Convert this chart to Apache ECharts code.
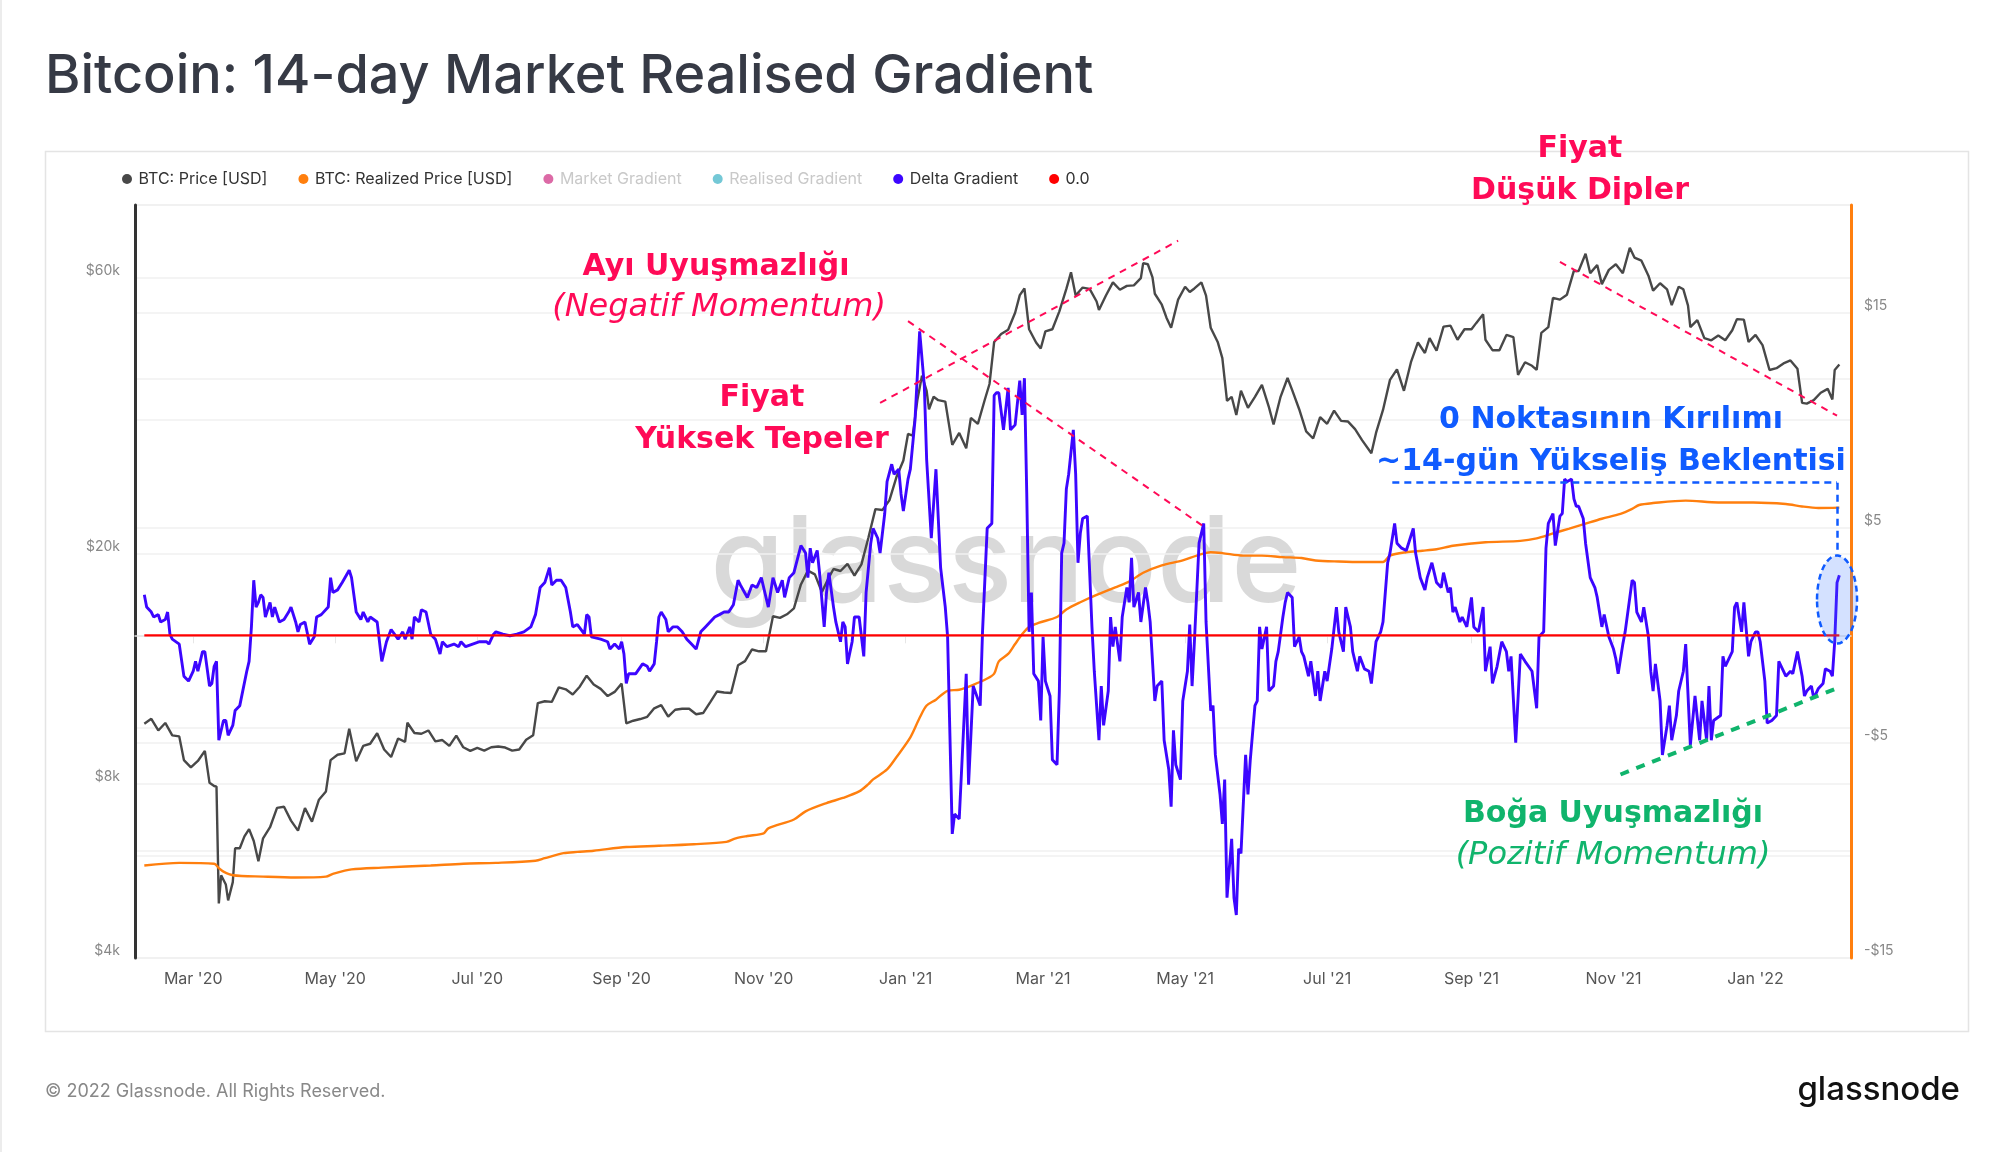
<!DOCTYPE html>
<html>
<head>
<meta charset="utf-8">
<title>Bitcoin: 14-day Market Realised Gradient</title>
<script src="https://cdn.jsdelivr.net/npm/echarts@6/dist/echarts.min.js"></script>
<style>
  html, body { margin: 0; padding: 0; background: #fff; }
  #chart { width: 2000px; height: 1152px; }
</style>
</head>
<body>
<div id="chart"></div>
<script>
// BTC price (USD)
const btcPrice = [
  ['2020-02-09', 10160], ['2020-02-12', 10360], ['2020-02-15', 9890], ['2020-02-18', 10190],
  ['2020-02-21', 9700], ['2020-02-24', 9660], ['2020-02-26', 8790], ['2020-02-29', 8540],
  ['2020-03-03', 8760], ['2020-03-06', 9120], ['2020-03-08', 8030], ['2020-03-10', 7930],
  ['2020-03-11', 7910], ['2020-03-12', 4970], ['2020-03-13', 5560], ['2020-03-15', 5360],
  ['2020-03-16', 5030], ['2020-03-18', 5410], ['2020-03-19', 6190], ['2020-03-21', 6190],
  ['2020-03-23', 6490], ['2020-03-25', 6680], ['2020-03-27', 6370], ['2020-03-29', 5880],
  ['2020-03-31', 6440], ['2020-04-03', 6730], ['2020-04-06', 7270], ['2020-04-09', 7300],
  ['2020-04-12', 6910], ['2020-04-15', 6640], ['2020-04-18', 7260], ['2020-04-21', 6880],
  ['2020-04-24', 7510], ['2020-04-27', 7760], ['2020-04-29', 8790], ['2020-05-02', 8980],
  ['2020-05-05', 9030], ['2020-05-07', 9960], ['2020-05-10', 8750], ['2020-05-13', 9300],
  ['2020-05-16', 9380], ['2020-05-19', 9780], ['2020-05-22', 9170], ['2020-05-25', 8900],
  ['2020-05-28', 9580], ['2020-05-31', 9450], ['2020-06-01', 10200], ['2020-06-04', 9790],
  ['2020-06-07', 9760], ['2020-06-10', 9890], ['2020-06-13', 9470], ['2020-06-16', 9520],
  ['2020-06-19', 9300], ['2020-06-22', 9690], ['2020-06-25', 9250], ['2020-06-28', 9120],
  ['2020-07-01', 9230], ['2020-07-04', 9130], ['2020-07-07', 9250], ['2020-07-10', 9280],
  ['2020-07-13', 9240], ['2020-07-16', 9130], ['2020-07-19', 9170], ['2020-07-22', 9530],
  ['2020-07-25', 9700], ['2020-07-27', 11030], ['2020-07-30', 11110], ['2020-08-02', 11080],
  ['2020-08-05', 11740], ['2020-08-08', 11650], ['2020-08-11', 11410], ['2020-08-14', 11770],
  ['2020-08-17', 12300], ['2020-08-20', 11870], ['2020-08-23', 11670], ['2020-08-26', 11340],
  ['2020-08-29', 11530], ['2020-09-01', 11920], ['2020-09-03', 10170], ['2020-09-06', 10280],
  ['2020-09-09', 10350], ['2020-09-12', 10440], ['2020-09-15', 10800], ['2020-09-18', 10940],
  ['2020-09-21', 10450], ['2020-09-24', 10740], ['2020-09-27', 10780], ['2020-09-30', 10780],
  ['2020-10-03', 10550], ['2020-10-06', 10600], ['2020-10-09', 11060], ['2020-10-12', 11550],
  ['2020-10-15', 11500], ['2020-10-18', 11480], ['2020-10-21', 12820], ['2020-10-24', 13030],
  ['2020-10-27', 13650], ['2020-10-30', 13550], ['2020-11-02', 13550], ['2020-11-05', 15580],
  ['2020-11-08', 15480], ['2020-11-11', 15700], ['2020-11-14', 16070], ['2020-11-17', 17680],
  ['2020-11-20', 18680], ['2020-11-23', 18400], ['2020-11-26', 17150], ['2020-11-29', 18180],
  ['2020-12-01', 18800], ['2020-12-04', 18650], ['2020-12-07', 19190], ['2020-12-10', 18320],
  ['2020-12-13', 19150], ['2020-12-16', 21310], ['2020-12-19', 23860], ['2020-12-22', 23780],
  ['2020-12-25', 24700], ['2020-12-28', 27080], ['2020-12-31', 28950], ['2021-01-02', 32170],
  ['2021-01-04', 31970], ['2021-01-06', 36770], ['2021-01-08', 40580], ['2021-01-10', 38200],
  ['2021-01-11', 35500], ['2021-01-13', 37300], ['2021-01-15', 36800], ['2021-01-18', 36600],
  ['2021-01-21', 30800], ['2021-01-24', 32300], ['2021-01-27', 30400], ['2021-01-29', 34300],
  ['2021-02-01', 33500], ['2021-02-04', 36900], ['2021-02-06', 39250], ['2021-02-08', 46400],
  ['2021-02-11', 47900], ['2021-02-14', 48700], ['2021-02-17', 52100], ['2021-02-19', 55900],
  ['2021-02-21', 57400], ['2021-02-23', 48800], ['2021-02-26', 46300], ['2021-02-28', 45200],
  ['2021-03-02', 48400], ['2021-03-05', 48800], ['2021-03-08', 52400], ['2021-03-11', 57300],
  ['2021-03-13', 61200], ['2021-03-15', 55800], ['2021-03-18', 57600], ['2021-03-21', 57300],
  ['2021-03-24', 54500], ['2021-03-25', 52700], ['2021-03-28', 55800], ['2021-03-31', 58800],
  ['2021-04-03', 57100], ['2021-04-06', 58000], ['2021-04-09', 58100], ['2021-04-12', 59800],
  ['2021-04-13', 63500], ['2021-04-15', 63200], ['2021-04-17', 60000], ['2021-04-18', 56200],
  ['2021-04-21', 53800], ['2021-04-23', 51100], ['2021-04-25', 49100], ['2021-04-28', 54900],
  ['2021-05-01', 57800], ['2021-05-03', 56600], ['2021-05-05', 57400], ['2021-05-08', 58800],
  ['2021-05-10', 55800], ['2021-05-12', 49100], ['2021-05-15', 46400], ['2021-05-17', 43500],
  ['2021-05-19', 36700], ['2021-05-21', 37300], ['2021-05-23', 34700], ['2021-05-25', 38200],
  ['2021-05-28', 35700], ['2021-05-31', 37300], ['2021-06-03', 39100], ['2021-06-06', 35800],
  ['2021-06-08', 33400], ['2021-06-11', 37300], ['2021-06-14', 40200], ['2021-06-16', 38300],
  ['2021-06-19', 35500], ['2021-06-22', 32500], ['2021-06-25', 31600], ['2021-06-28', 34400],
  ['2021-07-01', 33500], ['2021-07-04', 35300], ['2021-07-07', 33900], ['2021-07-10', 33800],
  ['2021-07-13', 32800], ['2021-07-16', 31400], ['2021-07-20', 29800], ['2021-07-22', 32300],
  ['2021-07-25', 35400], ['2021-07-28', 39900], ['2021-07-31', 41600], ['2021-08-03', 38200],
  ['2021-08-06', 42800], ['2021-08-09', 46300], ['2021-08-12', 44400], ['2021-08-14', 47100],
  ['2021-08-17', 44800], ['2021-08-20', 49300], ['2021-08-23', 49500], ['2021-08-26', 46800],
  ['2021-08-29', 48800], ['2021-09-01', 48800], ['2021-09-03', 50000], ['2021-09-06', 51800],
  ['2021-09-07', 46800], ['2021-09-10', 44900], ['2021-09-13', 44900], ['2021-09-16', 47700],
  ['2021-09-19', 47300], ['2021-09-21', 40700], ['2021-09-24', 42800], ['2021-09-27', 42200],
  ['2021-09-29', 41500], ['2021-10-01', 48100], ['2021-10-04', 49200], ['2021-10-06', 55300],
  ['2021-10-09', 54900], ['2021-10-12', 56000], ['2021-10-15', 61600], ['2021-10-17', 61500],
  ['2021-10-20', 65900], ['2021-10-22', 61000], ['2021-10-25', 63000], ['2021-10-27', 58400],
  ['2021-10-30', 61800], ['2021-11-02', 63200], ['2021-11-05', 61000], ['2021-11-08', 67500],
  ['2021-11-10', 64900], ['2021-11-13', 64100], ['2021-11-16', 60400], ['2021-11-18', 56900],
  ['2021-11-21', 58600], ['2021-11-24', 57200], ['2021-11-26', 53700], ['2021-11-29', 57800],
  ['2021-12-01', 57200], ['2021-12-03', 53600], ['2021-12-04', 49200], ['2021-12-07', 50600],
  ['2021-12-10', 47100], ['2021-12-13', 46700], ['2021-12-16', 47600], ['2021-12-19', 46700],
  ['2021-12-22', 48600], ['2021-12-24', 50800], ['2021-12-27', 50700], ['2021-12-29', 46400],
  ['2022-01-01', 47700], ['2022-01-04', 45800], ['2022-01-07', 41500], ['2022-01-10', 41800],
  ['2022-01-13', 42600], ['2022-01-16', 43100], ['2022-01-19', 41700], ['2022-01-21', 36400],
  ['2022-01-23', 36300], ['2022-01-26', 36800], ['2022-01-29', 37900], ['2022-02-01', 38500],
  ['2022-02-03', 36900], ['2022-02-04', 41500], ['2022-02-06', 42400]
];

// BTC realized price (USD), orange line
const realizedPrice = [
  ['2020-02-09', 5780], ['2020-02-24', 5840], ['2020-03-10', 5820], ['2020-03-12', 5720],
  ['2020-03-14', 5640], ['2020-03-18', 5560], ['2020-03-31', 5530], ['2020-04-14', 5510],
  ['2020-04-27', 5530], ['2020-04-30', 5590], ['2020-05-08', 5690], ['2020-05-21', 5730],
  ['2020-06-11', 5780], ['2020-06-25', 5820], ['2020-07-09', 5840], ['2020-07-26', 5890],
  ['2020-07-30', 5950], ['2020-08-07', 6070], ['2020-08-13', 6100], ['2020-08-20', 6130],
  ['2020-09-03', 6220], ['2020-09-17', 6250], ['2020-10-02', 6290], ['2020-10-16', 6350],
  ['2020-10-20', 6440], ['2020-10-25', 6500], ['2020-11-01', 6570], ['2020-11-03', 6700],
  ['2020-11-14', 6940], ['2020-11-19', 7170], ['2020-11-28', 7410], ['2020-12-05', 7560],
  ['2020-12-12', 7760], ['2020-12-16', 7990], ['2020-12-18', 8140], ['2020-12-24', 8470],
  ['2020-12-28', 8890], ['2021-01-03', 9620], ['2021-01-07', 10400], ['2021-01-10', 10920],
  ['2021-01-14', 11180], ['2021-01-19', 11580], ['2021-01-24', 11630], ['2021-01-30', 11860],
  ['2021-02-05', 12160], ['2021-02-08', 12400], ['2021-02-10', 13020], ['2021-02-14', 13410],
  ['2021-02-17', 13950], ['2021-02-20', 14500], ['2021-02-23', 14930], ['2021-02-27', 15170],
  ['2021-03-07', 15530], ['2021-03-11', 16000], ['2021-03-17', 16470], ['2021-03-24', 16960],
  ['2021-04-01', 17470], ['2021-04-07', 17880], ['2021-04-13', 18520], ['2021-04-21', 19070],
  ['2021-04-30', 19450], ['2021-05-06', 19830], ['2021-05-12', 20100], ['2021-05-17', 20030],
  ['2021-05-26', 19830], ['2021-06-03', 19830], ['2021-06-12', 19710], ['2021-06-20', 19640],
  ['2021-06-26', 19450], ['2021-07-06', 19370], ['2021-07-16', 19330], ['2021-07-25', 19330],
  ['2021-07-28', 19830], ['2021-08-04', 20100], ['2021-08-11', 20220], ['2021-08-17', 20340],
  ['2021-08-24', 20620], ['2021-09-07', 20910], ['2021-09-22', 21030], ['2021-09-29', 21240],
  ['2021-10-06', 21660], ['2021-10-13', 22080], ['2021-10-20', 22520], ['2021-10-27', 22960],
  ['2021-11-04', 23410], ['2021-11-09', 23880], ['2021-11-12', 24250], ['2021-11-18', 24440],
  ['2021-12-02', 24680], ['2021-12-16', 24500], ['2021-12-31', 24500], ['2022-01-14', 24350],
  ['2022-01-21', 24110], ['2022-01-28', 23970], ['2022-02-06', 24000]
];

// Delta Gradient (right axis), blue line
const deltaGradient = [
  ['2020-02-09', 1.88], ['2020-02-10', 1.31], ['2020-02-12', 1.08], ['2020-02-13', 0.85],
  ['2020-02-15', 0.96], ['2020-02-16', 0.62], ['2020-02-18', 0.73], ['2020-02-19', 1.08],
  ['2020-02-20', 0.05], ['2020-02-21', -0.18], ['2020-02-24', -0.41], ['2020-02-26', -1.90],
  ['2020-02-28', -2.13], ['2020-03-01', -1.67], ['2020-03-02', -1.21], ['2020-03-03', -1.67],
  ['2020-03-05', -0.76], ['2020-03-06', -0.76], ['2020-03-08', -2.36], ['2020-03-09', -2.24],
  ['2020-03-10', -1.44], ['2020-03-11', -1.21], ['2020-03-12', -4.88], ['2020-03-14', -3.96],
  ['2020-03-15', -3.96], ['2020-03-16', -4.65], ['2020-03-18', -4.19], ['2020-03-19', -3.50],
  ['2020-03-21', -3.27], ['2020-03-24', -1.67], ['2020-03-25', -1.21], ['2020-03-26', 0.39],
  ['2020-03-27', 2.56], ['2020-03-28', 1.31], ['2020-03-29', 1.53], ['2020-03-30', 1.88],
  ['2020-03-31', 1.76], ['2020-04-01', 0.85], ['2020-04-03', 1.53], ['2020-04-04', 0.85],
  ['2020-04-05', 1.31], ['2020-04-07', 0.62], ['2020-04-09', 0.73], ['2020-04-11', 1.08],
  ['2020-04-12', 1.31], ['2020-04-14', 0.62], ['2020-04-15', 0.16], ['2020-04-16', 0.50],
  ['2020-04-18', 0.62], ['2020-04-20', -0.41], ['2020-04-22', -0.07], ['2020-04-23', 0.85],
  ['2020-04-25', 0.96], ['2020-04-28', 1.31], ['2020-04-29', 2.68], ['2020-04-30', 1.99],
  ['2020-05-02', 2.11], ['2020-05-04', 2.45], ['2020-05-07', 3.02], ['2020-05-08', 2.68],
  ['2020-05-10', 1.08], ['2020-05-12', 0.73], ['2020-05-13', 1.08], ['2020-05-15', 0.62],
  ['2020-05-16', 0.85], ['2020-05-19', 0.62], ['2020-05-21', -1.21], ['2020-05-23', -0.30],
  ['2020-05-25', 0.27], ['2020-05-28', -0.18], ['2020-05-30', 0.16], ['2020-05-31', -0.18],
  ['2020-06-02', 0.39], ['2020-06-03', -0.18], ['2020-06-04', 0.85], ['2020-06-06', 0.62],
  ['2020-06-07', 1.19], ['2020-06-09', 1.08], ['2020-06-11', 0.05], ['2020-06-13', -0.18],
  ['2020-06-15', -0.87], ['2020-06-16', -0.30], ['2020-06-18', -0.53], ['2020-06-21', -0.41],
  ['2020-06-23', -0.53], ['2020-06-24', -0.30], ['2020-06-26', -0.53], ['2020-06-29', -0.41],
  ['2020-07-02', -0.30], ['2020-07-05', -0.30], ['2020-07-06', -0.41], ['2020-07-08', 0.05],
  ['2020-07-09', 0.16], ['2020-07-12', 0.05], ['2020-07-15', -0.02], ['2020-07-18', 0.05],
  ['2020-07-21', 0.16], ['2020-07-24', 0.39], ['2020-07-26', 0.96], ['2020-07-28', 2.22],
  ['2020-07-30', 2.45], ['2020-08-01', 3.14], ['2020-08-02', 2.34], ['2020-08-04', 2.56],
  ['2020-08-06', 2.56], ['2020-08-08', 2.22], ['2020-08-10', 1.08], ['2020-08-11', 0.39],
  ['2020-08-13', 0.50], ['2020-08-16', 0.05], ['2020-08-17', 0.96], ['2020-08-18', 0.85],
  ['2020-08-19', -0.07], ['2020-08-23', -0.18], ['2020-08-26', -0.30], ['2020-08-27', -0.64],
  ['2020-08-29', -0.41], ['2020-08-31', -0.64], ['2020-09-01', -0.30], ['2020-09-02', -0.87],
  ['2020-09-03', -2.24], ['2020-09-04', -1.79], ['2020-09-07', -1.79], ['2020-09-10', -1.33],
  ['2020-09-12', -1.44], ['2020-09-13', -1.67], ['2020-09-15', -1.33], ['2020-09-16', -0.30],
  ['2020-09-17', 0.85], ['2020-09-18', 1.08], ['2020-09-20', 0.73], ['2020-09-21', 0.16],
  ['2020-09-23', 0.39], ['2020-09-25', 0.39], ['2020-09-27', 0.16], ['2020-09-29', -0.18],
  ['2020-10-01', -0.41], ['2020-10-03', -0.64], ['2020-10-05', 0.16], ['2020-10-07', 0.39],
  ['2020-10-09', 0.62], ['2020-10-11', 0.85], ['2020-10-13', 0.96], ['2020-10-15', 1.08],
  ['2020-10-17', 1.08], ['2020-10-19', 1.42], ['2020-10-21', 2.56], ['2020-10-22', 2.34],
  ['2020-10-25', 1.76], ['2020-10-27', 2.34], ['2020-10-29', 2.22], ['2020-10-31', 2.68],
  ['2020-11-01', 2.22], ['2020-11-03', 1.31], ['2020-11-05', 2.68], ['2020-11-07', 1.99],
  ['2020-11-09', 2.56], ['2020-11-10', 1.76], ['2020-11-12', 2.68], ['2020-11-14', 2.91],
  ['2020-11-17', 4.17], ['2020-11-19', 3.82], ['2020-11-20', 2.68], ['2020-11-21', 4.05],
  ['2020-11-22', 3.37], ['2020-11-24', 3.94], ['2020-11-25', 2.91], ['2020-11-27', 0.39],
  ['2020-11-28', 1.99], ['2020-11-29', 2.91], ['2020-12-01', 1.31], ['2020-12-02', 0.62],
  ['2020-12-04', -0.30], ['2020-12-05', 0.62], ['2020-12-06', 0.39], ['2020-12-07', -1.33],
  ['2020-12-09', -0.30], ['2020-12-10', 0.85], ['2020-12-12', 0.85], ['2020-12-14', -0.98],
  ['2020-12-15', 1.99], ['2020-12-17', 4.28], ['2020-12-18', 4.97], ['2020-12-20', 4.51],
  ['2020-12-21', 3.82], ['2020-12-23', 5.66], ['2020-12-24', 7.14], ['2020-12-26', 7.95],
  ['2020-12-27', 7.49], ['2020-12-29', 7.72], ['2020-12-30', 6.57], ['2020-12-31', 5.77],
  ['2021-01-02', 7.26], ['2021-01-03', 7.72], ['2021-01-05', 10.0], ['2021-01-07', 14.13],
  ['2021-01-09', 11.61], ['2021-01-10', 8.17], ['2021-01-12', 4.51], ['2021-01-14', 7.72],
  ['2021-01-16', 3.14], ['2021-01-18', 1.31], ['2021-01-19', -0.07], ['2021-01-21', -9.23],
  ['2021-01-22', -8.31], ['2021-01-24', -8.54], ['2021-01-27', -1.79], ['2021-01-28', -6.94],
  ['2021-01-30', -2.36], ['2021-02-02', -3.27], ['2021-02-03', 0.16], ['2021-02-05', 4.97],
  ['2021-02-07', 5.20], ['2021-02-08', 11.15], ['2021-02-09', 11.27], ['2021-02-10', 11.27],
  ['2021-02-12', 9.55], ['2021-02-14', 11.50], ['2021-02-15', 9.55], ['2021-02-17', 9.78],
  ['2021-02-19', 11.84], ['2021-02-20', 10.24], ['2021-02-21', 11.95], ['2021-02-22', 6.57],
  ['2021-02-23', 0.16], ['2021-02-24', 1.99], ['2021-02-25', -1.79], ['2021-02-27', -2.13],
  ['2021-02-28', -3.96], ['2021-03-01', -0.07], ['2021-03-02', -2.13], ['2021-03-04', -2.82],
  ['2021-03-05', -5.79], ['2021-03-07', -6.02], ['2021-03-08', -2.59], ['2021-03-09', 3.82],
  ['2021-03-10', 4.28], ['2021-03-11', 6.80], ['2021-03-12', 7.49], ['2021-03-14', 9.55],
  ['2021-03-15', 7.49], ['2021-03-16', 3.37], ['2021-03-17', 4.74], ['2021-03-18', 5.43],
  ['2021-03-20', 5.54], ['2021-03-22', 0.39], ['2021-03-23', -1.67], ['2021-03-25', -4.88],
  ['2021-03-26', -2.36], ['2021-03-27', -4.19], ['2021-03-29', -2.59], ['2021-03-30', 0.85],
  ['2021-03-31', -0.53], ['2021-04-01', 0.39], ['2021-04-03', -1.21], ['2021-04-04', 0.85],
  ['2021-04-06', 2.22], ['2021-04-07', 1.53], ['2021-04-08', 3.60], ['2021-04-09', 1.31],
  ['2021-04-11', 1.99], ['2021-04-12', 0.62], ['2021-04-14', 2.22], ['2021-04-15', 1.53],
  ['2021-04-16', 0.62], ['2021-04-18', -3.05], ['2021-04-19', -2.36], ['2021-04-21', -2.13],
  ['2021-04-22', -4.88], ['2021-04-24', -6.25], ['2021-04-25', -7.97], ['2021-04-26', -4.42],
  ['2021-04-27', -6.02], ['2021-04-29', -6.71], ['2021-04-30', -3.05], ['2021-05-02', -1.67],
  ['2021-05-03', 0.50], ['2021-05-04', -2.36], ['2021-05-05', -0.30], ['2021-05-07', 4.28],
  ['2021-05-09', 5.20], ['2021-05-10', 0.62], ['2021-05-12', -3.50], ['2021-05-13', -3.27],
  ['2021-05-14', -5.56], ['2021-05-16', -7.40], ['2021-05-17', -8.77], ['2021-05-18', -6.71],
  ['2021-05-19', -12.2], ['2021-05-21', -9.46], ['2021-05-22', -12.2], ['2021-05-23', -13.0],
  ['2021-05-24', -9.92], ['2021-05-25', -10.14], ['2021-05-27', -5.56], ['2021-05-28', -7.40],
  ['2021-05-29', -5.79], ['2021-05-31', -3.27], ['2021-06-01', -3.05], ['2021-06-02', 0.39],
  ['2021-06-03', -0.64], ['2021-06-05', 0.39], ['2021-06-06', -2.59], ['2021-06-08', -2.36],
  ['2021-06-09', -1.21], ['2021-06-10', -0.76], ['2021-06-12', 0.85], ['2021-06-13', 1.53],
  ['2021-06-14', 1.99], ['2021-06-16', 1.76], ['2021-06-17', -0.53], ['2021-06-19', -0.07],
  ['2021-06-20', -0.76], ['2021-06-21', -0.98], ['2021-06-23', -1.90], ['2021-06-24', -1.21],
  ['2021-06-26', -2.82], ['2021-06-27', -1.67], ['2021-06-28', -3.05], ['2021-06-30', -1.67],
  ['2021-07-01', -2.13], ['2021-07-03', -0.64], ['2021-07-05', 1.31], ['2021-07-06', 0.16],
  ['2021-07-08', -0.76], ['2021-07-09', 1.31], ['2021-07-11', 0.39], ['2021-07-12', -0.76],
  ['2021-07-14', -1.67], ['2021-07-15', -0.98], ['2021-07-17', -1.56], ['2021-07-19', -1.67],
  ['2021-07-20', -2.24], ['2021-07-22', -0.30], ['2021-07-24', 0.16], ['2021-07-25', 0.62],
  ['2021-07-27', 3.37], ['2021-07-28', 3.82], ['2021-07-30', 5.20], ['2021-07-31', 4.28],
  ['2021-08-02', 4.05], ['2021-08-04', 3.94], ['2021-08-05', 4.28], ['2021-08-07', 4.97],
  ['2021-08-08', 3.82], ['2021-08-10', 2.68], ['2021-08-12', 2.11], ['2021-08-13', 2.68],
  ['2021-08-15', 3.37], ['2021-08-17', 2.45], ['2021-08-19', 2.22], ['2021-08-20', 2.91],
  ['2021-08-22', 1.99], ['2021-08-23', 2.22], ['2021-08-24', 1.08], ['2021-08-25', 1.31],
  ['2021-08-27', 0.62], ['2021-08-28', 0.85], ['2021-08-30', 0.39], ['2021-09-01', 1.76],
  ['2021-09-02', 0.39], ['2021-09-04', 0.16], ['2021-09-06', 1.31], ['2021-09-07', -1.67],
  ['2021-09-09', -0.53], ['2021-09-10', -2.24], ['2021-09-12', -1.44], ['2021-09-14', -0.30],
  ['2021-09-16', -0.76], ['2021-09-17', -1.67], ['2021-09-18', -0.98], ['2021-09-20', -4.99],
  ['2021-09-22', -0.87], ['2021-09-24', -1.21], ['2021-09-27', -1.67], ['2021-09-29', -3.39],
  ['2021-09-30', -0.07], ['2021-10-02', 0.16], ['2021-10-03', 4.05], ['2021-10-04', 5.20],
  ['2021-10-06', 5.66], ['2021-10-07', 4.17], ['2021-10-09', 5.54], ['2021-10-10', 5.66],
  ['2021-10-11', 7.26], ['2021-10-12', 7.14], ['2021-10-14', 7.26], ['2021-10-15', 6.34],
  ['2021-10-16', 6.00], ['2021-10-17', 6.00], ['2021-10-19', 5.43], ['2021-10-20', 4.28],
  ['2021-10-22', 2.68], ['2021-10-24', 2.22], ['2021-10-25', 1.76], ['2021-10-27', 0.39],
  ['2021-10-28', 0.96], ['2021-10-30', -0.07], ['2021-11-01', -0.64], ['2021-11-02', -1.10],
  ['2021-11-03', -1.79], ['2021-11-05', -0.41], ['2021-11-06', 0.16], ['2021-11-09', 2.56],
  ['2021-11-10', 2.45], ['2021-11-11', 1.08], ['2021-11-13', 0.62], ['2021-11-14', 1.31],
  ['2021-11-16', -0.07], ['2021-11-17', -1.67], ['2021-11-18', -2.59], ['2021-11-19', -1.33],
  ['2021-11-21', -3.05], ['2021-11-22', -5.56], ['2021-11-24', -4.19], ['2021-11-25', -3.27],
  ['2021-11-26', -4.88], ['2021-11-28', -3.73], ['2021-11-29', -2.59], ['2021-12-01', -1.67],
  ['2021-12-02', -0.41], ['2021-12-04', -5.11], ['2021-12-05', -3.96], ['2021-12-06', -2.82],
  ['2021-12-08', -4.88], ['2021-12-09', -3.05], ['2021-12-11', -4.88], ['2021-12-12', -2.36],
  ['2021-12-13', -4.88], ['2021-12-14', -3.96], ['2021-12-17', -3.73], ['2021-12-18', -0.98],
  ['2021-12-19', -1.44], ['2021-12-22', -0.76], ['2021-12-23', 1.31], ['2021-12-24', 1.53],
  ['2021-12-26', 0.16], ['2021-12-27', 1.53], ['2021-12-29', -0.98], ['2021-12-30', -0.30],
  ['2022-01-01', 0.16], ['2022-01-02', 0.16], ['2022-01-03', -0.30], ['2022-01-05', -2.13],
  ['2022-01-06', -4.08], ['2022-01-08', -3.96], ['2022-01-10', -3.73], ['2022-01-11', -1.21],
  ['2022-01-13', -1.67], ['2022-01-14', -1.90], ['2022-01-16', -1.67], ['2022-01-17', -1.79],
  ['2022-01-19', -0.76], ['2022-01-21', -1.90], ['2022-01-22', -2.82], ['2022-01-23', -2.59],
  ['2022-01-25', -2.36], ['2022-01-26', -2.93], ['2022-01-28', -2.47], ['2022-01-30', -2.24],
  ['2022-01-31', -1.56], ['2022-02-02', -1.67], ['2022-02-03', -1.90], ['2022-02-04', -0.30],
  ['2022-02-05', 2.45], ['2022-02-06', 2.79]
];

// 0.0 reference line
const zeroLine = [['2020-02-09', 0], ['2022-02-06', 0]];

// axis ticks and labels
const priceGrid = [4000, 6000, 8000, 10000, 20000, 40000, 60000, 80000];
const priceLabels = [4000, 8000, 20000, 60000];
const gradientLabels = [-15, -5, 5, 15];
const monthNames = ['Jan', 'Feb', 'Mar', 'Apr', 'May', 'Jun', 'Jul', 'Aug', 'Sep', 'Oct', 'Nov', 'Dec'];

// annotation trend lines (data coords)
const priceHigherHighs = [['2020-12-21', 36400], ['2021-04-28', 69400]];
const priceLowerLows = [['2021-10-09', 63800], ['2022-02-05', 34600]];
const deltaLowerHighs = [['2021-01-02', 14.6], ['2021-05-10', 4.98]];
const deltaHigherLows = [['2021-11-04', -6.47], ['2022-02-05', -2.46]];
const breakoutLevel = [['2021-07-29', 7.09], ['2022-02-05', 7.09], ['2022-02-05', 3.73]];
const breakoutPoint = ['2022-02-05', 1.66];

const PINK = '#ff0a57';
const BLUE = '#0f5bff';
const GREEN = '#10b46c';

const chart = echarts.init(document.getElementById('chart'), null, { renderer: 'canvas' });

function seg(a, b, style) {
  return [{ coord: a, lineStyle: style }, { coord: b }];
}

const pinkDash = { color: PINK, width: 2, type: [7, 6] };

const option = {
  animation: false,
  backgroundColor: '#fff',
  textStyle: { fontFamily: 'Inter, "Noto Sans", sans-serif' },
  legend: {
    left: 117,
    top: 166,
    icon: 'circle',
    itemWidth: 13,
    itemHeight: 10,
    itemGap: 31,
    textStyle: { fontSize: 16, color: '#333', fontFamily: 'Inter' },
    selectedMode: false,
    data: [
      { name: 'BTC: Price [USD]' },
      { name: 'BTC: Realized Price [USD]' },
      { name: 'Market Gradient', textStyle: { color: '#c9c9c9' } },
      { name: 'Realised Gradient', textStyle: { color: '#c9c9c9' } },
      { name: 'Delta Gradient' },
      { name: '0.0' }
    ]
  },
  grid: { left: 135, right: 149, top: 205, bottom: 194 },
  xAxis: {
    type: 'time',
    min: '2020-02-05',
    max: '2022-02-11',
    splitNumber: 10,
    axisLine: { show: true, lineStyle: { color: '#e3e3e3', width: 1.5 } },
    axisTick: { show: true, length: 8, lineStyle: { color: '#e6e6e6' } },
    splitLine: { show: false },
    axisLabel: {
      fontSize: 16,
      color: '#555',
      margin: 13,
      hideOverlap: false,
      formatter: function (v) {
        const d = new Date(v);
        return monthNames[d.getMonth()] + " '" + String(d.getFullYear()).slice(2);
      }
    }
  },
  yAxis: [
    {
      type: 'log',
      logBase: 10,
      min: 4000,
      max: 80000,
      position: 'left',
      axisLine: { show: true, lineStyle: { color: '#333', width: 3 } },
      axisTick: { show: false, customValues: priceGrid },
      splitLine: { show: true, lineStyle: { color: '#f1f1f1', width: 1.5 } },
      axisLabel: {
        customValues: priceLabels,
        fontSize: 14,
        color: '#888',
        margin: 15,
        verticalAlign: 'bottom',
        formatter: function (v) { return '$' + Math.round(v / 1000) + 'k'; }
      }
    },
    {
      type: 'value',
      min: -15,
      max: 20,
      interval: 5,
      position: 'right',
      axisLine: { show: true, lineStyle: { color: '#ff7f0e', width: 3 } },
      axisTick: { show: false },
      splitLine: { show: true, lineStyle: { color: '#f1f1f1', width: 1.5 } },
      axisLabel: {
        customValues: gradientLabels,
        fontSize: 14,
        color: '#888',
        margin: 13,
        verticalAlign: 'bottom',
        formatter: function (v) { return (v < 0 ? '-$' : '$') + Math.abs(v); }
      }
    }
  ],
  series: [
    {
      name: 'BTC: Price [USD]',
      type: 'line',
      yAxisIndex: 0,
      data: btcPrice,
      showSymbol: false,
      color: '#484848',
      lineStyle: { width: 2.4 },
      z: 3,
      markLine: {
        silent: true,
        symbol: 'none',
        label: { show: false },
        data: [
          seg(priceHigherHighs[0], priceHigherHighs[1], pinkDash),
          seg(priceLowerLows[0], priceLowerLows[1], pinkDash)
        ]
      }
    },
    {
      name: 'BTC: Realized Price [USD]',
      type: 'line',
      yAxisIndex: 0,
      data: realizedPrice,
      showSymbol: false,
      smooth: 0.3,
      color: '#ff7f0e',
      lineStyle: { width: 2.4 },
      z: 3
    },
    { name: 'Market Gradient', type: 'line', yAxisIndex: 1, data: [], color: '#dc6aa6' },
    { name: 'Realised Gradient', type: 'line', yAxisIndex: 1, data: [], color: '#74c8d6' },
    {
      name: 'Delta Gradient',
      type: 'line',
      yAxisIndex: 1,
      data: deltaGradient,
      showSymbol: false,
      color: '#3c06ff',
      lineStyle: { width: 2.9 },
      z: 4,
      markLine: {
        silent: true,
        symbol: 'none',
        label: { show: false },
        data: [
          seg(deltaLowerHighs[0], deltaLowerHighs[1], pinkDash),
          seg(deltaHigherLows[0], deltaHigherLows[1], { color: GREEN, width: 4, type: [9, 8] }),
          seg(breakoutLevel[0], breakoutLevel[1], { color: BLUE, width: 2.5, type: [7, 5] }),
          seg(breakoutLevel[1], breakoutLevel[2], { color: BLUE, width: 2.5, type: [7, 5] })
        ]
      }
    },
    {
      name: '0.0',
      type: 'line',
      yAxisIndex: 1,
      data: zeroLine,
      showSymbol: false,
      color: '#ff0000',
      lineStyle: { width: 2.2 },
      z: 5
    }
  ]
};

chart.setOption(option);

// layout of the text annotations (pixel positions)
function note(id, text, x, y, color, kind) {
  const font = kind === 'italic'
    ? 'italic 400 32px "DejaVu Sans", sans-serif'
    : 'bold 30px "DejaVu Sans", sans-serif';
  return {
    type: 'text', id: id, x: x, y: y, z: 100,
    style: {
      text: text, fill: color, font: font,
      align: 'center', verticalAlign: 'middle',
      textAlign: 'center', textVerticalAlign: 'middle'
    }
  };
}

const pt = chart.convertToPixel({ xAxisIndex: 0, yAxisIndex: 1 }, breakoutPoint);

chart.setOption({
  graphic: [
    {
      type: 'rect', id: 'frame', z: -10, silent: true,
      shape: { x: 45.5, y: 151.5, width: 1923, height: 880 },
      style: { fill: 'none', stroke: '#e4e4e4', lineWidth: 1.5 }
    },
    {
      type: 'rect', id: 'pageEdge', z: -10, silent: true,
      shape: { x: 0, y: 0, width: 2, height: 1152 },
      style: { fill: '#ececec' }
    },
    {
      type: 'text', id: 'title', x: 45, y: 77, z: 10,
      style: {
        text: 'Bitcoin: 14-day Market Realised Gradient',
        font: '500 54px Inter, "Noto Sans", sans-serif',
        fill: '#363a45', verticalAlign: 'middle', textVerticalAlign: 'middle'
      }
    },
    {
      type: 'text', id: 'watermark', x: 1006, y: 566, z: -5, silent: true,
      style: {
        text: 'glassnode', font: '500 120px Inter, sans-serif',
        fill: 'rgba(0,0,0,0.15)',
        align: 'center', verticalAlign: 'middle', textAlign: 'center', textVerticalAlign: 'middle'
      }
    },
    {
      type: 'text', id: 'copyright', x: 45, y: 1092, z: 10,
      style: {
        text: '© 2022 Glassnode. All Rights Reserved.',
        font: '400 18px Inter, sans-serif', fill: '#888',
        verticalAlign: 'middle', textVerticalAlign: 'middle'
      }
    },
    {
      type: 'text', id: 'logo', x: 1960, y: 1090, z: 10,
      style: {
        text: 'glassnode', font: '500 33px Inter, sans-serif', fill: '#111',
        align: 'right', verticalAlign: 'middle', textAlign: 'right', textVerticalAlign: 'middle'
      }
    },
    {
      type: 'ellipse', id: 'breakout', z: 50, silent: true,
      shape: { cx: pt[0], cy: pt[1], rx: 20, ry: 44 },
      style: { fill: 'rgba(60,120,255,0.22)', stroke: BLUE, lineWidth: 2.5, lineDash: [6, 4] }
    },
    note('n1', 'Ayı Uyuşmazlığı', 716, 267, PINK, 'bold'),
    note('n2', '(Negatif Momentum)', 719, 308, PINK, 'italic'),
    note('n3', 'Fiyat', 762, 398, PINK, 'bold'),
    note('n4', 'Yüksek Tepeler', 762, 440, PINK, 'bold'),
    note('n5', 'Fiyat', 1580, 149, PINK, 'bold'),
    note('n6', 'Düşük Dipler', 1580, 191, PINK, 'bold'),
    note('n7', '0 Noktasının Kırılımı', 1611, 420, BLUE, 'bold'),
    note('n8', '~14-gün Yükseliş Beklentisi', 1611, 462, BLUE, 'bold'),
    note('n9', 'Boğa Uyuşmazlığı', 1613, 814, GREEN, 'bold'),
    note('n10', '(Pozitif Momentum)', 1613, 856, GREEN, 'italic')
  ]
});
</script>
</body>
</html>
